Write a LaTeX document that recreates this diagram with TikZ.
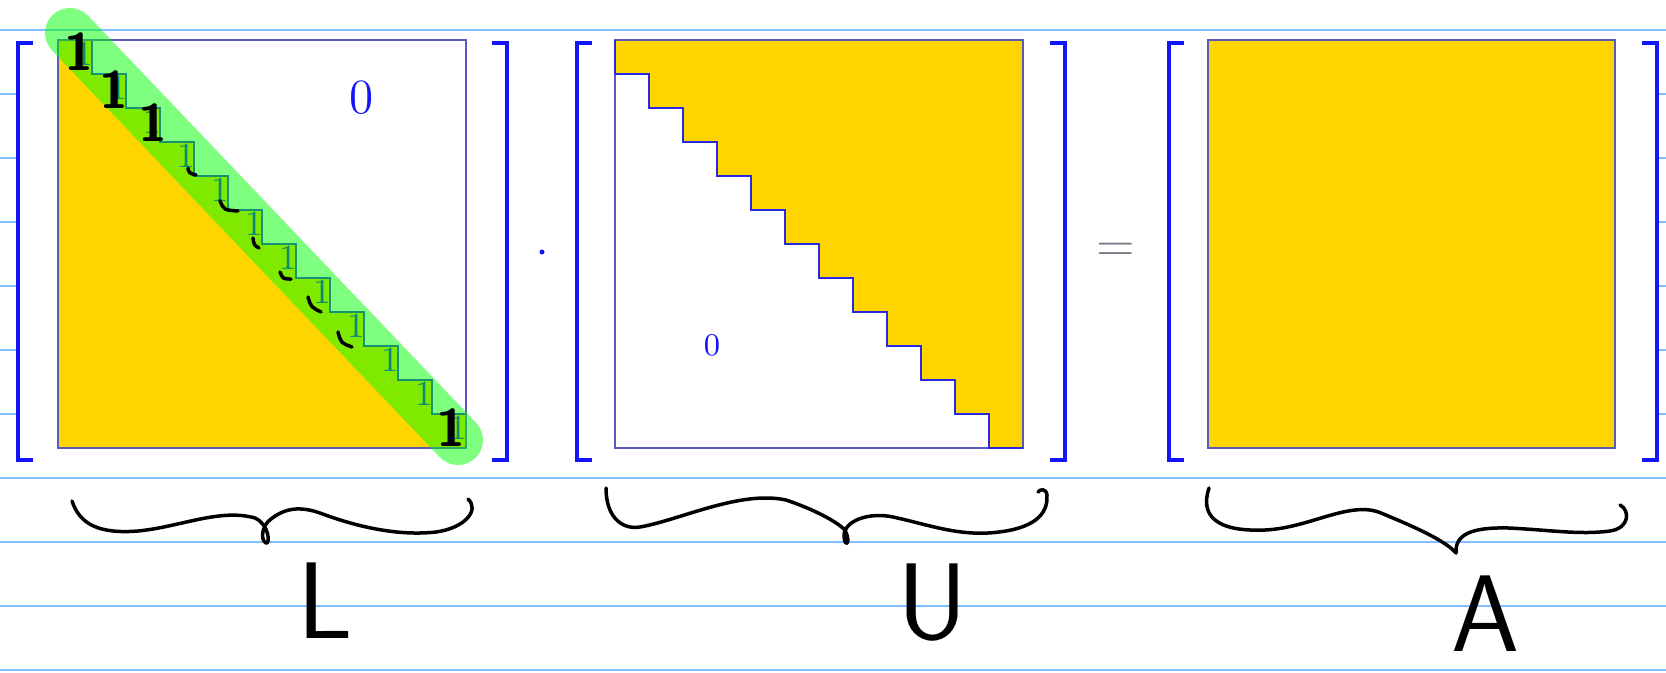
\documentclass[tikz,border=0pt]{standalone}
\usepackage{tikz}
\usetikzlibrary{positioning}

\definecolor{matyellow}{RGB}{255,213,0}
\definecolor{brblue}{RGB}{20,20,250}
\definecolor{boxline}{RGB}{90,90,190}
\definecolor{nbblue}{RGB}{128,190,255}
\definecolor{hlgreen}{RGB}{0,255,0}
\definecolor{eqgray}{RGB}{120,120,135}

\begin{document}
\begin{tikzpicture}
		[
			x=0.01cm, y=-0.01cm,
			nbline/.style={draw=nbblue, line width=0.025cm},
			bracket/.style={draw=brblue, line width=0.04cm},
			matbox/.style={draw=boxline, line width=0.025cm},
			stair/.style={draw=brblue!80!gray, line width=0.022cm},
			marker/.style={draw=hlgreen, opacity=0.5, line width=0.5cm, line cap=round},
			hand/.style={draw=black, line width=0.035cm, line cap=round, line join=round},
			handone/.style={inner sep=0pt, font=\sffamily\bfseries\fontsize{15}{15}\selectfont},
			entry/.style={inner sep=0pt, text=brblue},
			letter/.style={inner sep=0pt, font=\sffamily\fontsize{31}{31}\selectfont}
		]

		\fill[white] (0,0) rectangle (1666,672);
		\useasboundingbox (0,0) rectangle (1666,672);
		\foreach \y in {30,94,...,670}
			\draw[nbline] (0,\y) -- (1666,\y);
		\fill[white] (19,34) rectangle (1656,474);

		\foreach \l/\r in {18/507, 577/1065, 1169/1657} {
			\draw[bracket] (\l+15,43) -- (\l,43) -- (\l,460) -- (\l+15,460);
			\draw[bracket] (\r-15,43) -- (\r,43) -- (\r,460) -- (\r-15,460);
		}

		% L
		\fill[matyellow] (58,40) \foreach \k in {1,...,12} { -- ++(34,0) -- ++(0,34) } -- (58,448) -- cycle;
		\draw[stair] (58,40) \foreach \k in {1,...,12} { -- ++(34,0) -- ++(0,34) };
		\draw[matbox] (58,40) rectangle (466,448);
		\foreach \k in {0,...,11}
			\node[entry, font=\fontsize{10}{10}\selectfont] (one\k) at (84+34*\k, 54+34*\k) {1};
		\node[entry, font=\fontsize{14}{14}\selectfont] (zeroL) at (362,98) {0};

		% U
		\fill[matyellow] (615,40) \foreach \k in {1,...,12} { -- ++(0,34) -- ++(34,0) } -- (1023,40) -- cycle;
		\draw[matbox] (615,40) rectangle (1023,448);
		\draw[stair] (615,40) \foreach \k in {1,...,12} { -- ++(0,34) -- ++(34,0) };
		\node[entry, font=\fontsize{9}{9}\selectfont] (zeroU) at (712,345) {0};

		% A
		\fill[matyellow] (1208,40) rectangle (1615,448);
		\draw[matbox] (1208,40) rectangle (1615,448);

		\node[circle, fill=brblue, inner sep=0pt, minimum size=0.05cm] (dot) at (542,252) {};
		\node[inner sep=0pt, text=eqgray, font=\fontsize{14}{14}\selectfont] (eq) at (1116,252) {$=$};

		% highlighted diagonal
		\draw[marker] (70,33) -- (458,440);
		\node[handone] (h1) at (79,52) {1};
		\node[handone] (h2) at (114,90) {1};
		\node[handone] (h3) at (153,123) {1};
		\node[handone] (h4) at (451,428) {1};
		\draw[hand] (188,168) .. controls (189,173) .. (196,175);
		\draw[hand] (220,201) .. controls (224,210) .. (238,211);
		\draw[hand] (253,238) .. controls (254,245) .. (259,248);
		\draw[hand] (280,272) .. controls (283,279) .. (291,279);
		\draw[hand] (308,297) .. controls (311,307) .. (321,312);
		\draw[hand] (338,332) .. controls (341,343) .. (352,347);

		% braces
		\draw[hand] (72,501) .. controls (80,525) and (100,534) .. (138,531)
			.. controls (180,527) and (220,508) .. (255,518)
			.. controls (270,525) and (270,545) .. (266,543)
			.. controls (260,540) and (262,525) .. (271,519)
			.. controls (285,508) and (300,506) .. (320,513)
			.. controls (360,528) and (400,536) .. (436,532)
			.. controls (465,528) and (480,510) .. (468,499);
		\draw[hand] (606,488) .. controls (606,515) and (620,530) .. (640,527)
			.. controls (680,520) and (740,490) .. (786,500)
			.. controls (810,508) and (835,520) .. (845,530)
			.. controls (852,545) and (844,548) .. (844,535)
			.. controls (845,520) and (870,512) .. (893,517)
			.. controls (930,525) and (960,537) .. (999,532)
			.. controls (1040,527) and (1048,510) .. (1047,495)
			.. controls (1046,488) and (1040,489) .. (1038,492);
		\draw[hand] (1209,488) .. controls (1200,515) and (1215,532) .. (1265,530)
			.. controls (1310,528) and (1350,500) .. (1381,513)
			.. controls (1410,525) and (1445,540) .. (1456,553)
			.. controls (1455,535) and (1470,527) .. (1509,528)
			.. controls (1550,530) and (1580,535) .. (1610,531)
			.. controls (1630,528) and (1630,510) .. (1620,505);

		\node[letter] (labL) at (325,601) {L};
		\node[letter] (labU) at (933,603) {U};
		\node[letter] (labA) at (1486,614) {A};
	\end{tikzpicture}
\end{document}
